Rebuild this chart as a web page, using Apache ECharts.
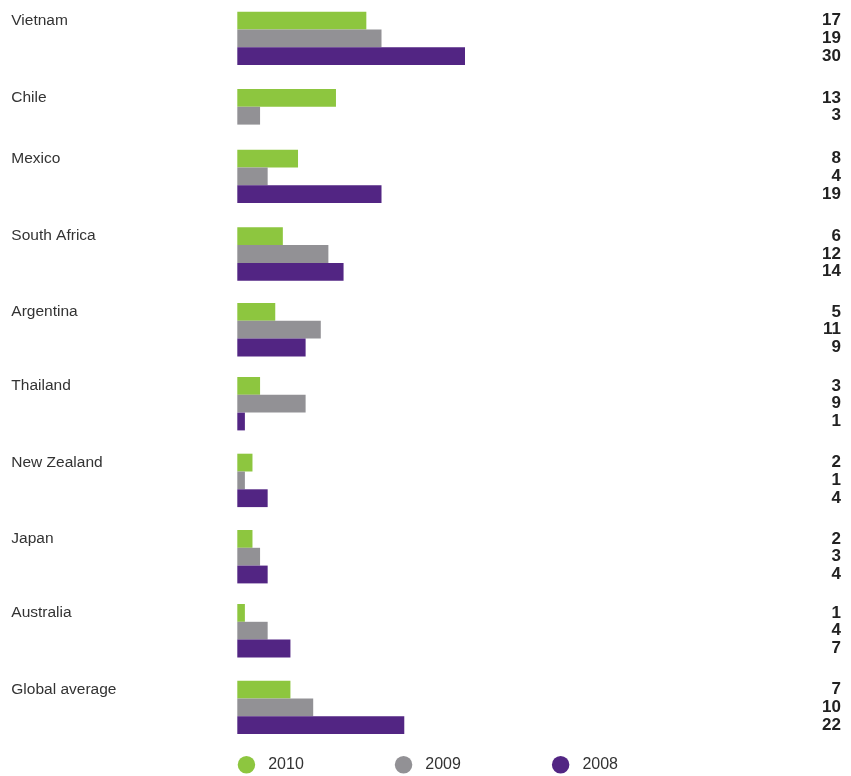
<!DOCTYPE html>
<html>
<head>
<meta charset="utf-8">
<script src="https://cdn.jsdelivr.net/npm/echarts@6/dist/echarts.min.js"></script>
<style>
  html, body { margin: 0; padding: 0; background: #ffffff; }
  #chart { width: 851px; height: 776px; }
</style>
</head>
<body>
<div id="chart"></div>
<script>
// Countries, top to bottom
const countries = ['Vietnam', 'Chile', 'Mexico', 'South Africa', 'Argentina',
                   'Thailand', 'New Zealand', 'Japan', 'Australia', 'Global average'];
// Values per year (null = no figure for that year)
const v2010 = [17, 13, 8, 6, 5, 3, 2, 2, 1, 7];
const v2009 = [19, 3, 4, 12, 11, 9, 1, 3, 4, 10];
const v2008 = [30, null, 19, 14, 9, 1, 4, 4, 7, 22];
const years = ['2010', '2009', '2008'];

// Layout: top edge of each country's block of bars
const blockTops = [11.7, 89, 149.7, 227.3, 303, 377, 453.7, 530, 604, 680.7];
const slotH = 17.8;
const plotLeft = 237.3;
const plotRight = 465;
const colors = ['#8dc63f', '#929195', '#522583'];
const FONT = "'Liberation Sans', Arial, sans-serif";

const yearSeries = [v2010, v2009, v2008];
const grids = [], xAxes = [], yAxes = [], series = [];

countries.forEach((country, i) => {
  const vals = yearSeries.map(arr => arr[i]);
  grids.push({
    left: plotLeft, width: plotRight - plotLeft,
    top: blockTops[i], height: slotH * 3
  });
  xAxes.push({
    gridIndex: i, type: 'value', min: 0, max: 30, show: false
  });
  // left axis: country name beside the first bar
  yAxes.push({
    gridIndex: i, type: 'category', inverse: true, data: years,
    axisLine: { show: false }, axisTick: { show: false }, splitLine: { show: false },
    axisLabel: {
      interval: 0, hideOverlap: false,
      align: 'left', margin: plotLeft - 11.3,
      fontFamily: FONT, fontSize: 15.5, color: '#333333',
      formatter: (v, idx) => idx === 0 ? country : ''
    }
  });
  // right axis: the values, one per bar
  yAxes.push({
    gridIndex: i, type: 'category', inverse: true, position: 'right',
    data: vals.map(v => v == null ? '' : String(v)),
    axisLine: { show: false }, axisTick: { show: false }, splitLine: { show: false },
    axisLabel: {
      interval: 0, hideOverlap: false,
      align: 'right', margin: 841 - plotRight,
      fontFamily: FONT, fontSize: 17, fontWeight: 'bold', color: '#222222'
    }
  });
  years.forEach((yr, j) => {
    series.push({
      name: yr, type: 'bar', stack: 'block' + i,
      xAxisIndex: i, yAxisIndex: i * 2,
      barWidth: '100%',
      itemStyle: { color: colors[j] },
      emphasis: { disabled: true },
      data: years.map((_, k) => (k === j && vals[j] != null) ? vals[j] : '-')
    });
  });
});

const chart = echarts.init(document.getElementById('chart'), null, { renderer: 'canvas' });
chart.setOption({
  animation: false,
  backgroundColor: '#ffffff',
  color: colors,
  grid: grids,
  xAxis: xAxes,
  yAxis: yAxes,
  legend: {
    data: years,
    left: 237.7, top: 756,
    padding: 0,
    icon: 'circle',
    itemWidth: 17.5, itemHeight: 17.5,
    itemGap: 91,
    selectedMode: false,
    textStyle: { fontFamily: FONT, fontSize: 16, color: '#333333', padding: [0, 0, 0, 8] }
  },
  series: series
});
</script>
</body>
</html>
